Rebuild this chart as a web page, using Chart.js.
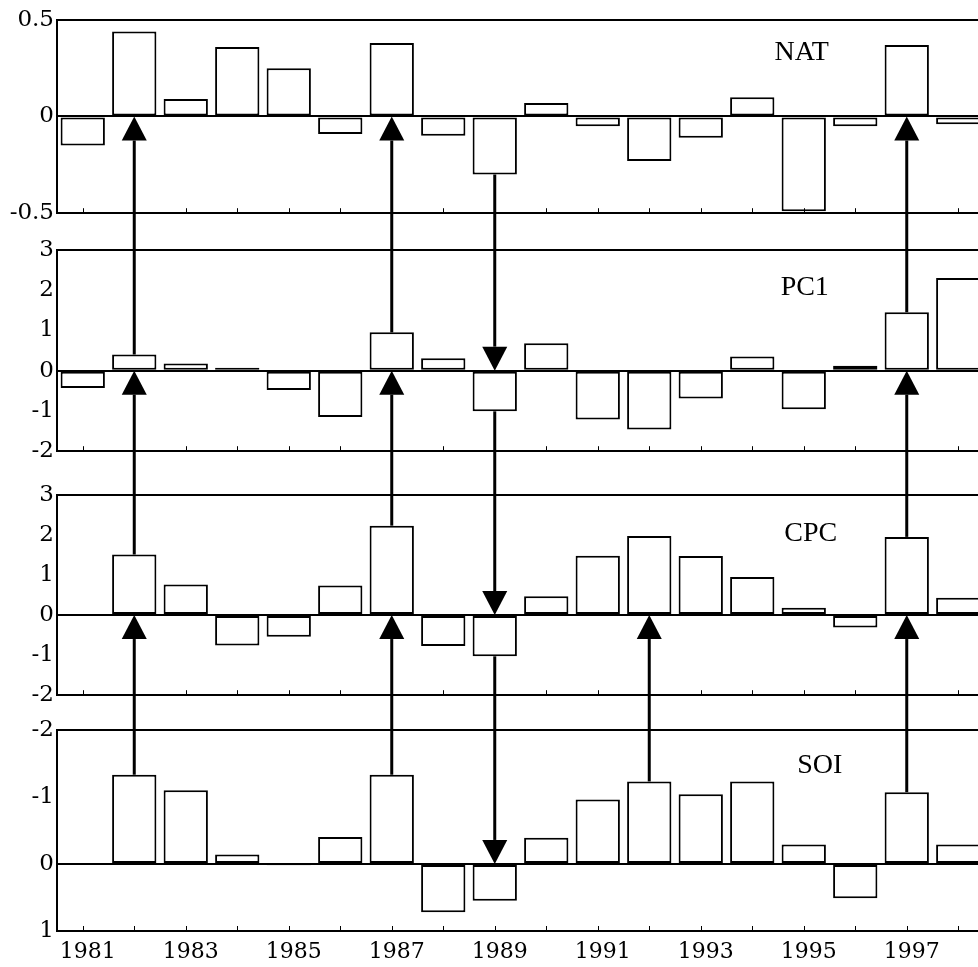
<!DOCTYPE html>
<html>
<head>
<meta charset="utf-8">
<script src="https://cdn.jsdelivr.net/npm/chart.js@4.4.0/dist/chart.umd.min.js"></script>
<style>
  body { margin: 0; background: #fff; overflow: hidden; width: 978px; height: 967px; position: relative; }
  canvas { position: absolute; left: 0; }
</style>
</head>
<body>
<canvas id="natChart" width="984" height="227" style="top:3px"></canvas>
<canvas id="pc1Chart" width="984" height="235" style="top:233px"></canvas>
<canvas id="cpcChart" width="984" height="234" style="top:478px"></canvas>
<canvas id="soiChart" width="984" height="254" style="top:713px"></canvas>
<canvas id="arrows" width="984" height="967" style="top:0px"></canvas>
<script>
var years = ["1981","1982","1983","1984","1985","1986","1987","1988","1989",
             "1990","1991","1992","1993","1994","1995","1996","1997","1998"];

var nat = [-0.15, 0.44, 0.09, 0.36, 0.25, -0.09, 0.38, -0.10, -0.30,
           0.07, -0.05, -0.23, -0.11, 0.10, -0.49, -0.05, 0.37, -0.04];
var pc1 = [-0.43, 0.40, 0.18, 0.07, -0.48, -1.15, 0.95, 0.31, -1.01,
           0.68, -1.21, -1.46, -0.69, 0.35, -0.96, 0.12, 1.45, 2.30];
var cpc = [0, 1.51, 0.76, -0.76, -0.54, 0.74, 2.23, -0.77, -1.03,
           0.47, 1.48, 1.97, 1.47, 0.95, 0.18, -0.31, 1.95, 0.43];
var soi = [0.01, -1.33, -1.10, -0.14, 0.02, -0.40, -1.33, 0.72, 0.55,
           -0.39, -0.96, -1.23, -1.04, -1.23, -0.29, 0.51, -1.07, -0.29];

// axis ranges [min, max, step]
var natRange = [-0.5, 0.5, 0.5];
var pc1Range = [-2, 3, 1];
var cpcRange = [-2, 3, 1];
var soiRange = [-2, 1, 1];

// arrows: year, from panel (bar end), to panel (zero line)
var links = [
  ["1982", "soi", "cpc"], ["1982", "cpc", "pc1"], ["1982", "pc1", "nat"],
  ["1987", "soi", "cpc"], ["1987", "cpc", "pc1"], ["1987", "pc1", "nat"],
  ["1989", "nat", "pc1"], ["1989", "pc1", "cpc"], ["1989", "cpc", "soi"],
  ["1992", "soi", "cpc"],
  ["1997", "soi", "cpc"], ["1997", "cpc", "pc1"], ["1997", "pc1", "nat"]
];

var panelDecor = {
  id: 'panelDecor',
  afterDatasetsDraw: function(chart, args, o) {
    var c = chart.ctx, a = chart.chartArea, x = chart.scales.x, y = chart.scales.y;
    c.save();
    c.strokeStyle = '#000';
    c.lineWidth = 1;
    for (var i = 0; i < years.length; i++) {
      var px = Math.round(x.getPixelForValue(i)) + 0.5;
      c.beginPath();
      c.moveTo(px, a.bottom - 1);
      c.lineTo(px, a.bottom - 5);
      c.stroke();
    }
    c.fillStyle = '#000';
    c.font = '28px "Liberation Serif"';
    c.textAlign = 'center';
    c.textBaseline = 'alphabetic';
    c.fillText(o.text, x.getPixelForValue(o.at) + o.dx, y.getPixelForValue(o.y));
    c.restore();
  }
};

function makePanel(id, values, range, reverse, last, label) {
  return new Chart(document.getElementById(id).getContext('2d'), {
    type: 'bar',
    data: {
      labels: years,
      datasets: [{
        data: values,
        backgroundColor: '#fff',
        borderColor: '#000',
        borderWidth: 2,
        borderSkipped: false,
        barPercentage: 0.86,
        categoryPercentage: 1
      }]
    },
    plugins: [panelDecor],
    options: {
      responsive: false,
      animation: false,
      events: [],
      layout: { padding: { top: 16, bottom: last ? 0 : 16, left: 0, right: 0 } },
      plugins: {
        legend: { display: false },
        tooltip: { enabled: false },
        panelDecor: label
      },
      scales: {
        x: {
          display: last,
          offset: true,
          grid: { display: false, drawTicks: false },
          border: { display: false },
          afterFit: function(s) { if (last) s.height = 36; },
          ticks: {
            autoSkip: false,
            maxRotation: 0,
            padding: 8,
            labelOffset: 5,
            color: '#000',
            font: { family: 'DejaVu Serif', size: 22 },
            callback: function(v, i) { return i % 2 === 0 && i < 17 ? years[i] : ''; }
          }
        },
        y: {
          min: range[0],
          max: range[1],
          reverse: reverse,
          afterFit: function(s) { s.width = 57; },
          ticks: {
            stepSize: range[2],
            padding: 3,
            color: '#000',
            font: { family: 'DejaVu Serif', size: 23 }
          },
          grid: {
            drawTicks: false,
            lineWidth: 2,
            color: function(ctx) {
              var v = ctx.tick ? ctx.tick.value : null;
              return (v === 0 || v === range[0] || v === range[1]) ? '#000' : 'rgba(0,0,0,0)';
            }
          },
          border: { display: true, color: '#000', width: 2 }
        }
      }
    }
  });
}

var charts = {
  nat: makePanel('natChart', nat, natRange, false, false, { text: 'NAT', at: 14, dx: -2, y: 0.29 }),
  pc1: makePanel('pc1Chart', pc1, pc1Range, false, false, { text: 'PC1', at: 14, dx: 1, y: 1.89 }),
  cpc: makePanel('cpcChart', cpc, cpcRange, false, false, { text: 'CPC', at: 14, dx: 7, y: 1.84 }),
  soi: makePanel('soiChart', soi, soiRange, true, true, { text: 'SOI', at: 14, dx: 16, y: -1.36 })
};
var series = { nat: nat, pc1: pc1, cpc: cpc, soi: soi };

var actx = document.getElementById('arrows').getContext('2d');
actx.strokeStyle = '#000';
actx.fillStyle = '#000';
actx.lineWidth = 3;
links.forEach(function(l) {
  var i = years.indexOf(l[0]);
  var from = charts[l[1]], to = charts[l[2]];
  var x = from.scales.x.getPixelForValue(i);
  var y1 = from.canvas.offsetTop + from.scales.y.getPixelForValue(series[l[1]][i]);
  var y2 = to.canvas.offsetTop + to.scales.y.getPixelForValue(0);
  var dir = y2 > y1 ? 1 : -1;
  var head = 24, half = 12.5;
  actx.beginPath();
  actx.moveTo(x, y1);
  actx.lineTo(x, y2 - dir * head);
  actx.stroke();
  actx.beginPath();
  actx.moveTo(x, y2);
  actx.lineTo(x - half, y2 - dir * head);
  actx.lineTo(x + half, y2 - dir * head);
  actx.closePath();
  actx.fill();
});
</script>
</body>
</html>
